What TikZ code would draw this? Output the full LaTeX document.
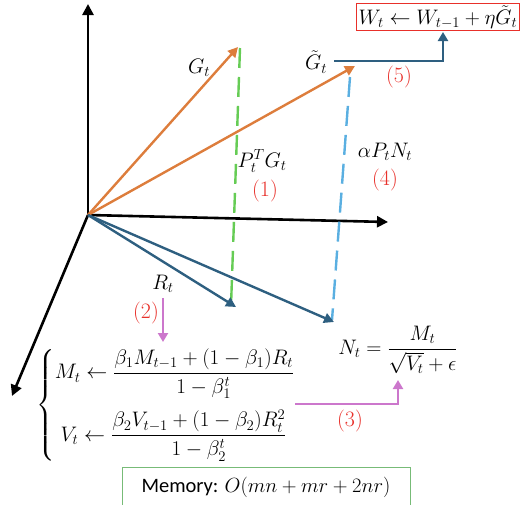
\RequirePackage{fix-cm}
\documentclass[tikz,border=0pt]{standalone}
\usepackage{amsmath}
\usepackage{fontspec}
\newfontfamily\memfont{Carlito}
\usetikzlibrary{arrows.meta}
\definecolor{orng}{RGB}{221,125,60}
\definecolor{dblue}{RGB}{46,95,128}
\definecolor{gdash}{RGB}{102,204,85}
\definecolor{bdash}{RGB}{90,175,225}
\definecolor{magen}{RGB}{204,119,204}
\definecolor{redtxt}{RGB}{232,48,42}
\definecolor{boxgreen}{RGB}{119,187,119}
\tikzset{
  axis/.style={line width=2.6pt,-{Triangle[length=11pt,width=11pt]}},
  vec/.style={line width=2.4pt,-{Triangle[length=10pt,width=10pt]}},
  dashln/.style={line width=2.4pt,dash pattern=on 20pt off 9pt},
  flow/.style={line width=2.4pt,-{Triangle[length=9pt,width=10pt]}},
  lbl/.style={font=\fontsize{21}{24}\selectfont,inner sep=1pt},
  num/.style={font=\fontsize{22}{25}\selectfont,text=redtxt,inner sep=1pt},
}
\begin{document}
\begin{tikzpicture}[x=1pt,y=-1pt]
\useasboundingbox (0,0) rectangle (527,504);
% axes
\coordinate (O) at (88,215);
\coordinate (up) at (88,4);
\coordinate (rt) at (388,222);
\coordinate (dl) at (12,396);
\draw[axis] (O) -- (up);
\draw[axis] (O) -- (rt);
\draw[axis] (O) -- (dl);
% dashed projections
\coordinate (g1) at (240,48);
\coordinate (g2) at (231,306);
\coordinate (b1) at (350,77);
\coordinate (b2) at (332,320);
\draw[dashln,gdash] (g1) -- (g2);
\draw[dashln,bdash] (b1) -- (b2);
% vectors
\coordinate (Gt) at (238,47);
\coordinate (Gtt) at (355,66);
\coordinate (Rt) at (236,307);
\coordinate (Nt) at (334,322);
\draw[vec,orng] (O) -- (Gt);
\draw[vec,orng] (O) -- (Gtt);
\draw[vec,dblue] (O) -- (Rt);
\draw[vec,dblue] (O) -- (Nt);
% labels
\node[lbl] (lGt) at (199,68) {$G_t$};
\node[lbl] (lGtt) at (316,62) {$\tilde{G}_t$};
\node[lbl] (lP) at (262,161) {$P_t^T G_t$};
\node[num] (n1) at (265,191) {(1)};
\node[lbl] (lA) at (385,152) {$\alpha P_t N_t$};
\node[num] (n4) at (385,180) {(4)};
\node[num] (n5) at (399,77) {(5)};
\node[lbl] (lR) at (163,284) {$R_t$};
\node[num] (n2) at (146,313) {(2)};
\node[num] (n3) at (350,421) {(3)};
% update box
\node[lbl,draw=redtxt,line width=0.9pt,inner sep=2pt,minimum height=26pt] (W) at (438,17) {$W_t \leftarrow W_{t-1} + \eta \tilde{G}_t$};
\coordinate (ws) at (334,61);
\draw[flow,dblue] (ws) -- (443,61) -- (443,32);
% moment equations
\node[lbl,inner sep=0pt] (MV) at (166,405) {$\left\{\begin{array}{@{}l@{}}
\displaystyle M_t \leftarrow \frac{\beta_1 M_{t-1} + (1-\beta_1)R_t}{1-\beta_1^t}\\ \noalign{\vskip 11pt}
\displaystyle \;V_t \leftarrow \frac{\beta_2 V_{t-1} + (1-\beta_2)R_t^2}{1-\beta_2^t}
\end{array}\right.$};
\draw[flow,magen] (163,298) -- (163,342);
% N equation
\node[lbl] (NE) at (398,350) {$\displaystyle N_t = \frac{M_t}{\sqrt{V_t}+\epsilon}$};
\coordinate (ms) at (295,404);
\draw[flow,magen] (ms) -- (398,404) -- (398,380);
% memory box
\node[draw=boxgreen,line width=0.9pt,minimum width=288pt,minimum height=40pt,font=\fontsize{20.5}{24}\selectfont] (mem) at (266,487) {\memfont Memory: $O(mn+mr+2nr)$};
\end{tikzpicture}
\end{document}
